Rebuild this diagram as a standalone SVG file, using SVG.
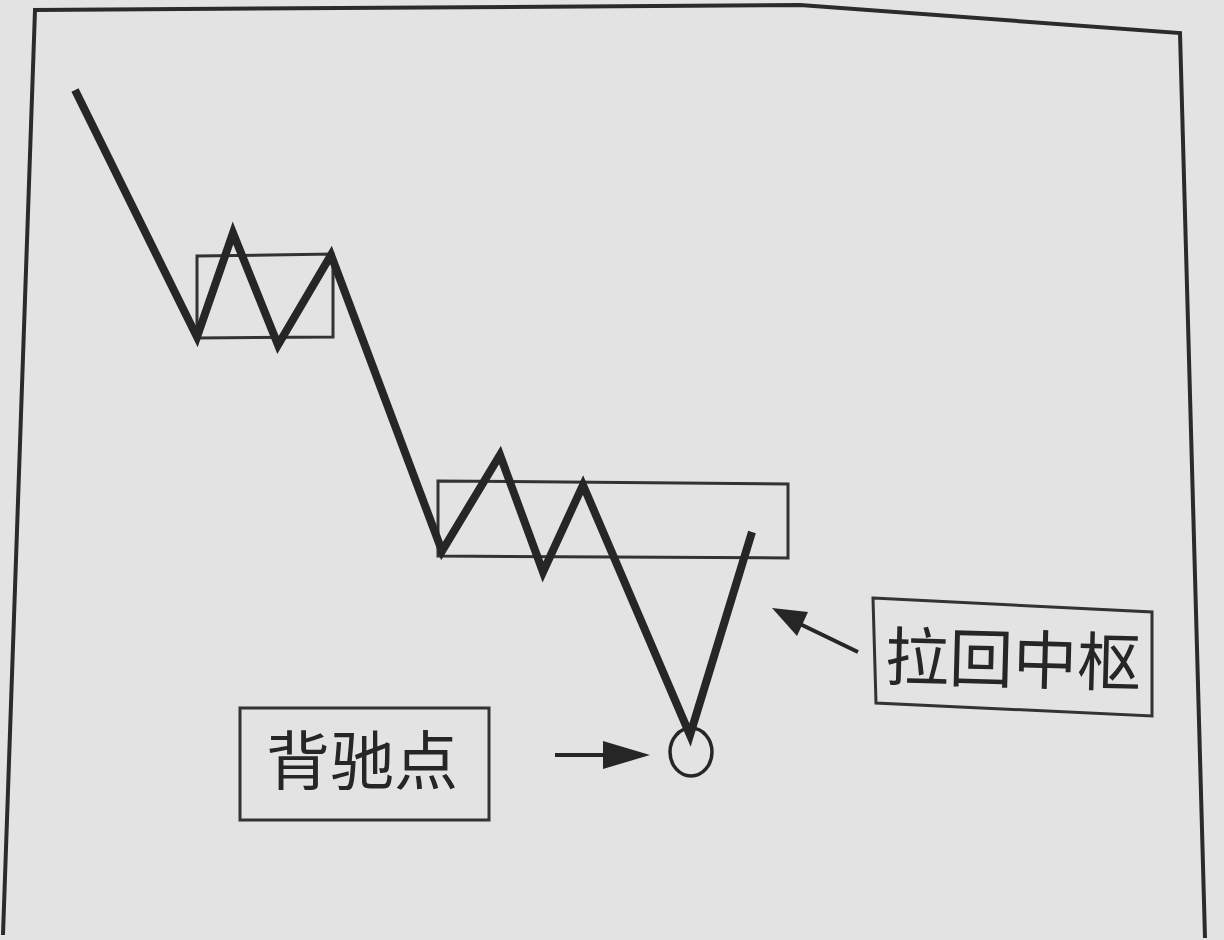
<svg xmlns="http://www.w3.org/2000/svg" width="1224" height="940" viewBox="0 0 1224 940">
<defs>
<style>
.frame{fill:none;stroke:#2b2b2b;stroke-width:4}
.box{fill:none;stroke:#333;stroke-width:3}
.wave{fill:none;stroke:#262626;stroke-width:8;stroke-linejoin:miter;stroke-linecap:butt}
.ptr{fill:none;stroke:#262626;stroke-width:4}
.lbl{font-family:"Noto Sans CJK SC","Noto Sans CJK JP",sans-serif;font-size:64px;fill:#262626;text-anchor:middle}
</style>
<marker id="ah" viewBox="0 0 10 10" refX="9" refY="5" markerWidth="12" markerHeight="6" markerUnits="userSpaceOnUse" orient="auto" overflow="visible">
<path d="M0,0 L10,5 L0,10 Z" fill="#262626"/>
</marker>
</defs>
<rect width="1224" height="940" fill="#e3e3e3"/>
<g id="frame">
<path class="frame" d="M3,935 L35,10 L800,5 L1180,33 L1205,938"/>
</g>
<g id="zone1"><path class="box" d="M197,256 L333,254 L333,337 L197,338 Z"/></g>
<g id="zone2"><path class="box" d="M438,481 L788,484 L788,558 L438,556 Z"/></g>
<g id="connectors">
<polyline class="wave" points="75,90 197,337 233,233 278,345 331,255 442,551 500,455 543,572 583,485 690,735 752,532"/>
<line class="ptr" x1="555" y1="755" x2="606" y2="755"/>
<path d="M603,741 L650,755 L603,769 Z" fill="#262626"/>
<line class="ptr" x1="858" y1="652" x2="800" y2="624"/>
<path d="M772,608 L808,612 L797,636 Z" fill="#262626"/>
</g>
<g id="divergence"><ellipse cx="691" cy="752" rx="21" ry="24" fill="none" stroke="#262626" stroke-width="3.5"/></g>
<g id="label-pull"><path class="box" d="M873,598 L1152,612 L1152,716 L876,703 Z"/><text class="lbl" x="1013" y="683" transform="rotate(1.5 1013 660)">拉回中枢</text></g>
<g id="label-div"><rect class="box" x="240" y="708" width="249" height="112"/><text class="lbl" x="362" y="784">背驰点</text></g>
</svg>
